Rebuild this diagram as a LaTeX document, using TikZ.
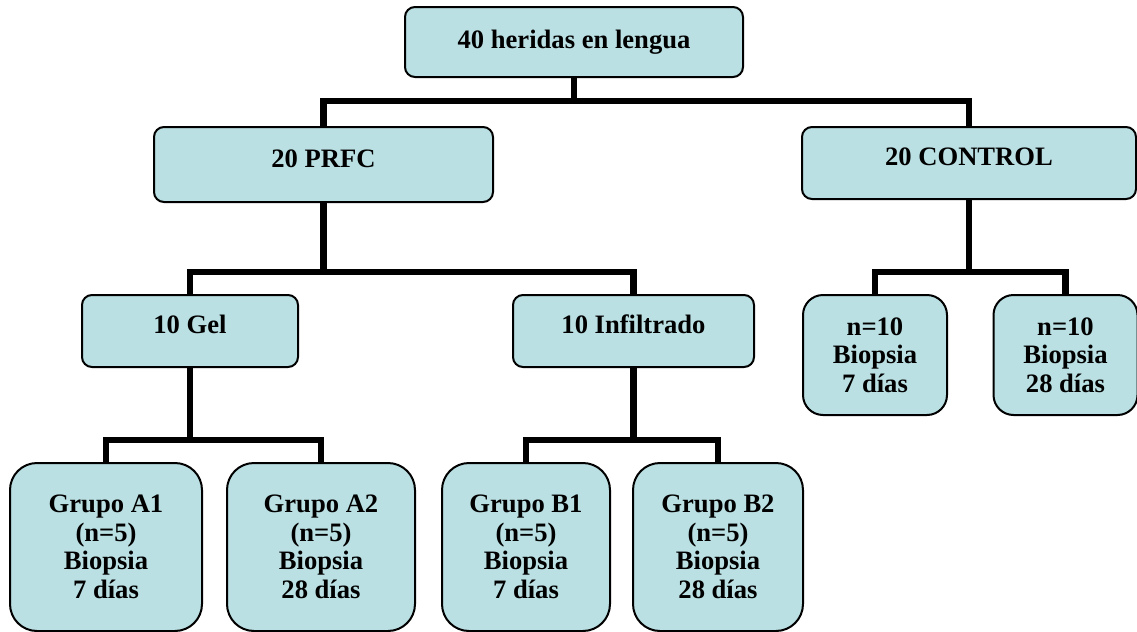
\documentclass[tikz,border=0pt]{standalone}
\usepackage{fontspec}
\setmainfont{Liberation Serif}
\definecolor{boxFill}{RGB}{186,224,227}
\begin{document}
\begin{tikzpicture}[
        x=0.5pt, y=-0.5pt,
        every node/.style={font=\fontsize{13.3pt}{14.3pt}\selectfont\bfseries},
        armNode/.style={rectangle, draw, line width=1pt, fill=boxFill, rounded corners=5pt, align=center, inner sep=0pt, minimum height=36pt, text height=9pt, text depth=6.5pt},
        biopsiaNode/.style={rectangle, draw, line width=1pt, fill=boxFill, rounded corners=10pt, align=center, inner sep=0pt, minimum width=72pt, minimum height=60pt},
        grupoNode/.style={rectangle, draw, line width=1pt, fill=boxFill, rounded corners=13.5pt, align=center, inner sep=0pt, minimum height=84pt},
        line/.style={line width=3.2pt}
    ]
        \useasboundingbox (0,0) rectangle (1137,632);

        \node[armNode, minimum width=169pt, minimum height=35pt, text depth=3pt] (heridas) at (574, 42) {40 heridas en lengua};
        \node[armNode, minimum width=169.5pt, minimum height=37.5pt] (prfc) at (323.5, 164.5) {20 PRFC};
        \node[armNode, minimum width=167pt] (control) at (969, 163) {20 CONTROL};
        \node[armNode, minimum width=108pt] (gel) at (190, 331) {10 Gel};
        \node[armNode, minimum width=120.5pt] (infiltrado) at (633.5, 331) {10 Infiltrado};
        \node[biopsiaNode] (control7) at (875, 355) {n=10\\Biopsia\\7 días};
        \node[biopsiaNode] (control28) at (1065.5, 355) {n=10\\Biopsia\\28 días};
        \node[grupoNode, minimum width=96pt] (grupoA1) at (106, 547) {Grupo A1\\(n=5)\\Biopsia\\7 días};
        \node[grupoNode, minimum width=94pt] (grupoA2) at (321, 547) {Grupo A2\\(n=5)\\Biopsia\\28 días};
        \node[grupoNode, minimum width=84pt] (grupoB1) at (526, 547) {Grupo B1\\(n=5)\\Biopsia\\7 días};
        \node[grupoNode, minimum width=85pt] (grupoB2) at (718, 547) {Grupo B2\\(n=5)\\Biopsia\\28 días};

        \draw[line] (heridas.south) -- (heridas.south |- 0,101) -| (prfc.north);
        \draw[line] (heridas.south) -- (heridas.south |- 0,101) -| (control.north);
        \draw[line] (prfc.south) -- (prfc.south |- 0,272) -| (gel.north);
        \draw[line] (prfc.south) -- (prfc.south |- 0,272) -| (infiltrado.north);
        \draw[line] (control.south) -- (control.south |- 0,272) -| (control7.north);
        \draw[line] (control.south) -- (control.south |- 0,272) -| (control28.north);
        \draw[line] (gel.south) -- (gel.south |- 0,440) -| (grupoA1.north);
        \draw[line] (gel.south) -- (gel.south |- 0,440) -| (grupoA2.north);
        \draw[line] (infiltrado.south) -- (infiltrado.south |- 0,440) -| (grupoB1.north);
        \draw[line] (infiltrado.south) -- (infiltrado.south |- 0,440) -| (grupoB2.north);
    \end{tikzpicture}
\end{document}
